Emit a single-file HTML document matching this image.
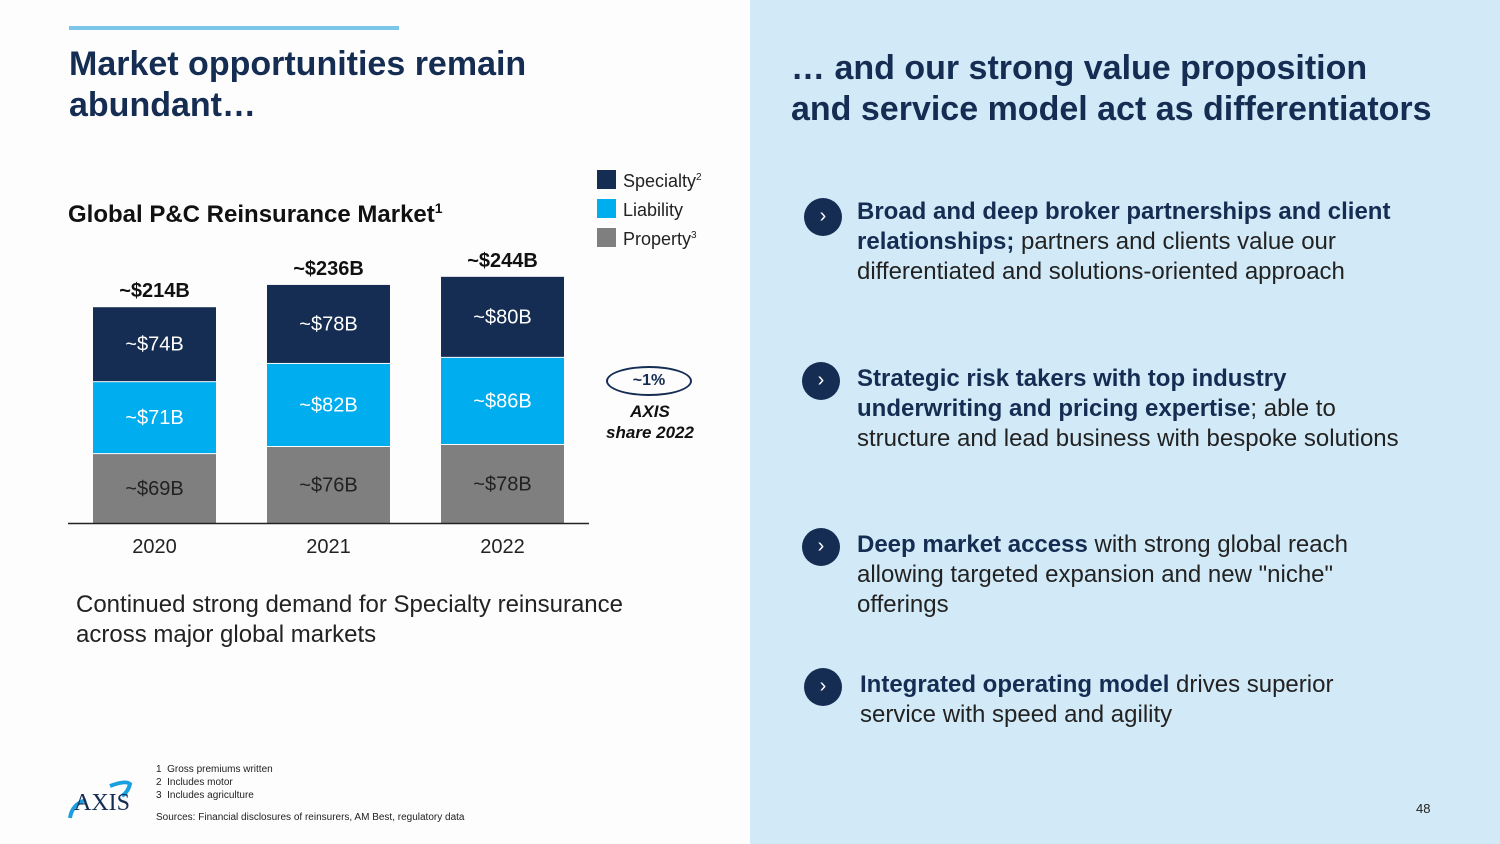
<!DOCTYPE html>
<html><head><meta charset="utf-8"><style>
body{margin:0;width:1500px;height:844px;position:relative;overflow:hidden;background:#fdfdfe;font-family:"Liberation Sans",sans-serif;color:#222}
.a{position:absolute;margin:0}
.h{color:#152d52;font-weight:bold}
.rp{position:absolute;left:750px;top:0;width:750px;height:844px;background:#d2eaf7}
.bul{position:absolute;width:38px;height:38px;border-radius:50%;background:#152d52;color:#fff;font-size:20px;line-height:36px;text-align:center}
.bt{position:absolute;font-size:24px;line-height:30px;color:#222}
.bt b{color:#152d52}
</style></head><body>
<div class="a" style="left:69px;top:26px;width:330px;height:4px;background:#7cc6ea"></div>
<h1 class="a h" style="left:69px;top:44px;font-size:34px;line-height:41px">Market opportunities remain<br>abundant…</h1>
<div class="a" style="left:68px;top:200px;font-size:24px;font-weight:bold;color:#111">Global P&amp;C Reinsurance Market<sup style="font-size:14px">1</sup></div>
<svg class="a" id="chart" style="left:0;top:0" width="750" height="600"></svg>
<div class="a" style="left:606px;top:366px;width:82px;height:26px;border:2px solid #152d52;border-radius:50%;text-align:center;font-weight:bold;font-size:16px;line-height:26px;color:#152d52">~1%</div>
<div class="a" style="left:590px;top:401px;width:120px;text-align:center;font-weight:bold;font-style:italic;font-size:17px;line-height:21px;color:#111">AXIS<br>share 2022</div>
<p class="a" style="left:76px;top:590px;font-size:24px;line-height:30px">Continued strong demand for Specialty reinsurance<br>across major global markets</p>
<div class="a" style="left:66px;top:778px;width:68px;height:44px">
<svg width="68" height="44"><path d="M4 40 Q6 26 20 22" stroke="#1aa0e0" stroke-width="4" fill="none"/><path d="M44 8 Q60 2 64 6 Q62 14 56 18" stroke="#1aa0e0" stroke-width="4" fill="none"/><text x="8" y="32" font-family="Liberation Serif" font-size="24" fill="#152d52">AXIS</text></svg></div>
<div class="a" style="left:156px;top:763px;font-size:10px;line-height:13px;color:#222">1&nbsp;&nbsp;Gross premiums written<br>2&nbsp;&nbsp;Includes motor<br>3&nbsp;&nbsp;Includes agriculture<div style="margin-top:9px">Sources: Financial disclosures of reinsurers, AM Best, regulatory data</div></div>
<div class="rp"></div>
<h2 class="a h" style="left:791px;top:48px;font-size:34px;line-height:41px">… and our strong value proposition<br>and service model act as differentiators</h2>
<div class="bul" style="left:804px;top:198px">›</div>
<div class="bt" style="left:857px;top:197px"><b>Broad and deep broker partnerships and client<br>relationships;</b> partners and clients value our<br>differentiated and solutions-oriented approach</div>
<div class="bul" style="left:802px;top:362px">›</div>
<div class="bt" style="left:857px;top:364px"><b>Strategic risk takers with top industry<br>underwriting and pricing expertise</b>; able to<br>structure and lead business with bespoke solutions</div>
<div class="bul" style="left:802px;top:528px">›</div>
<div class="bt" style="left:857px;top:530px"><b>Deep market access</b> with strong global reach<br>allowing targeted expansion and new "niche"<br>offerings</div>
<div class="bul" style="left:804px;top:668px">›</div>
<div class="bt" style="left:860px;top:670px"><b>Integrated operating model</b> drives superior<br>service with speed and agility</div>
<div class="a" style="left:1416px;top:801px;font-size:13px">48</div>
<script>
const years=["2020","2021","2022"];
const property=[69,76,78];
const liability=[71,82,86];
const specialty=[74,78,80];
const totals=["~$214B","~$236B","~$244B"];
const seriesNames=["Specialty","Liability","Property"];
const NS="http://www.w3.org/2000/svg";
const svg=document.getElementById('chart');
const base=523,k=1.013,x0=93,step=174,bw=123;
const y=v=>base-v*k;
function mk(t,a){const e=document.createElementNS(NS,t);for(const n in a)e.setAttribute(n,a[n]);svg.appendChild(e);return e;}
const series=[[property,"#7f7f7f","#fff","property"],[liability,"#00adef","#fff","liability"],[specialty,"#152d52","#fff","specialty"]];
years.forEach((yr,i)=>{
 let acc=0;const x=x0+i*step;
 series.forEach(([arr,c,tc,nm])=>{
  const v=arr[i];
  const r=mk('rect',{x:x,y:y(acc+v)+1,width:bw,height:v*k-1,fill:c});
  
  
  const t=mk('text',{x:x+bw/2,y:y(acc+v/2)+7,'text-anchor':'middle','font-size':20,fill:nm=="property"?"#222":"#fff"});
  t.textContent='~$'+v+'B';
  
  
  acc+=v;
 });
 const tt=mk('text',{x:x+bw/2,y:y(acc)-9,'text-anchor':'middle','font-size':20,'font-weight':'bold',fill:'#111'});
 tt.textContent=totals[i];
 
 
 const xl=mk('text',{x:x+bw/2,y:553,'text-anchor':'middle','font-size':20,fill:'#222'});
 xl.textContent=yr;
 
 
});
const ax=mk('line',{x1:68,x2:589,y1:base+.5,y2:base+.5,stroke:'#222','stroke-width':1.5});


const lc=["#152d52","#00adef","#7f7f7f"],sup=["2","","3"];
seriesNames.forEach((n,i)=>{
 const r=mk('rect',{x:597,y:170+i*29,width:19,height:19,fill:lc[i]});
 
 
 const t=mk('text',{x:623,y:187+i*29,'font-size':18,fill:'#222'});
 t.innerHTML=n+(sup[i]?'<tspan font-size="10" dy="-7">'+sup[i]+'</tspan>':'');
 
 
});
</script>
</body></html>
